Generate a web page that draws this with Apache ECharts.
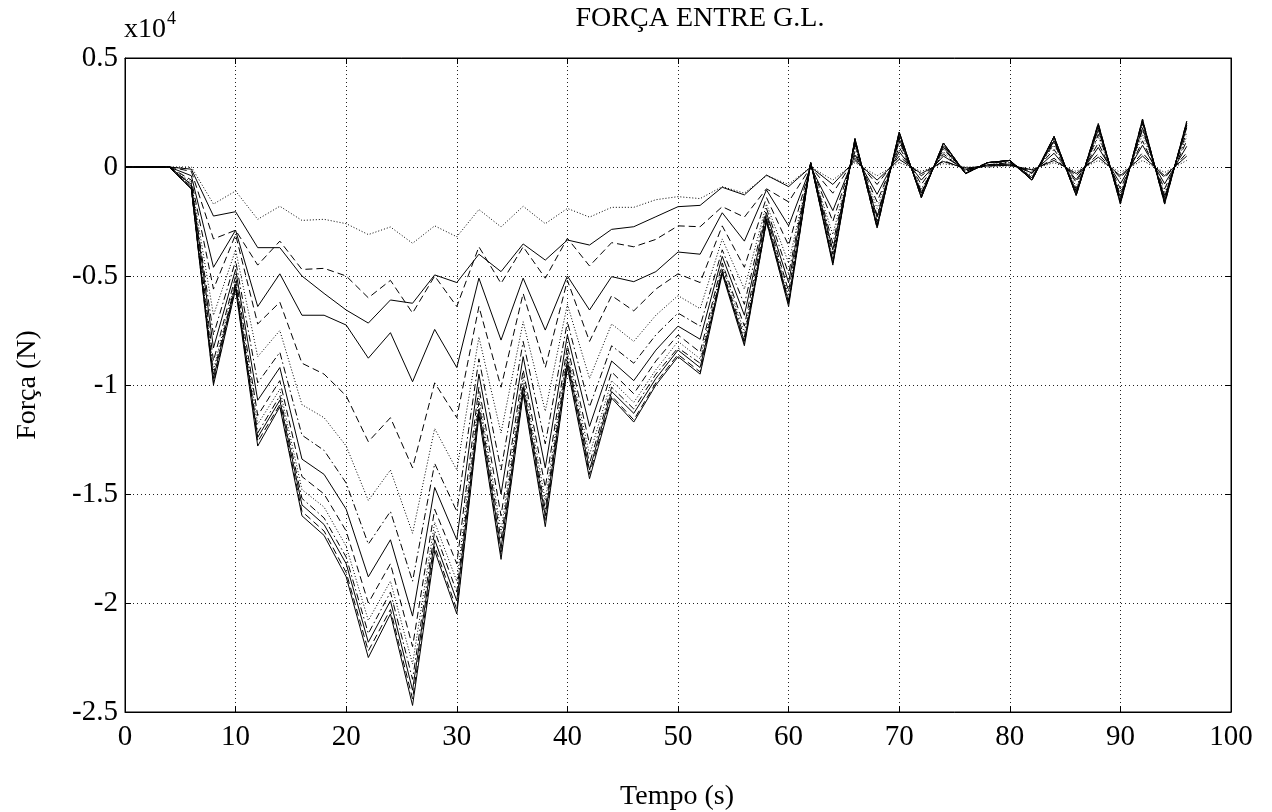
<!DOCTYPE html>
<html>
<head>
<meta charset="utf-8">
<script src="https://cdn.jsdelivr.net/npm/echarts@6/dist/echarts.min.js"></script>
<style>
html,body{margin:0;padding:0;background:#fff;}
#chart{width:1272px;height:812px;}
</style>
</head>
<body>
<div id="chart"></div>
<script>
// Time (s)
const T = [0,2,4,6,8,10,12,14,16,18,20,22,24,26,28,30,32,34,36,38,40,42,44,46,48,50,52,54,56,58,60,62,64,66,68,70,72,74,76,78,80,82,84,86,88,90,92,94,96];
// Força (x10^4 N), one array per G.L. pair, from top (smallest) to bottom (largest)
const L1 = [0,0,0,0,-0.17,-0.11,-0.24,-0.18,-0.245,-0.24,-0.26,-0.31,-0.275,-0.35,-0.27,-0.32,-0.195,-0.275,-0.18,-0.26,-0.19,-0.23,-0.185,-0.185,-0.15,-0.136,-0.145,-0.09,-0.12,-0.04,-0.08,0,-0.06,0.02,-0.04,0.02,-0.02,0.015,0,0,0.005,-0.01,0.02,-0.02,0.03,-0.025,0.03,-0.025,0.03];
const L2 = [0,0,0,-0.01,-0.225,-0.205,-0.37,-0.37,-0.50,-0.58,-0.656,-0.716,-0.61,-0.625,-0.495,-0.53,-0.40,-0.48,-0.353,-0.427,-0.335,-0.358,-0.286,-0.274,-0.228,-0.182,-0.176,-0.093,-0.128,-0.037,-0.09,0,-0.08,0.03,-0.06,0.035,-0.03,0.025,-0.005,0.005,0.008,-0.013,0.03,-0.03,0.045,-0.04,0.05,-0.04,0.05];
const L3 = [0,0,0,-0.02,-0.33,-0.29,-0.45,-0.34,-0.47,-0.465,-0.50,-0.60,-0.52,-0.67,-0.50,-0.64,-0.366,-0.534,-0.366,-0.51,-0.327,-0.454,-0.347,-0.366,-0.332,-0.27,-0.274,-0.182,-0.23,-0.10,-0.16,0,-0.12,0.04,-0.08,0.05,-0.04,0.03,-0.01,0.005,0.01,-0.02,0.04,-0.04,0.06,-0.05,0.065,-0.05,0.065];
const L4 = [0,0,0,-0.04,-0.46,-0.29,-0.64,-0.49,-0.68,-0.68,-0.725,-0.877,-0.76,-0.985,-0.745,-0.92,-0.51,-0.794,-0.51,-0.748,-0.50,-0.656,-0.503,-0.526,-0.48,-0.39,-0.40,-0.21,-0.34,-0.105,-0.27,0,-0.2,0.055,-0.125,0.07,-0.06,0.05,-0.013,0.01,0.013,-0.027,0.063,-0.058,0.09,-0.077,0.1,-0.077,0.095];
const L5 = [0,0,0,-0.06,-0.56,-0.31,-0.72,-0.62,-0.90,-0.95,-1.05,-1.26,-1.15,-1.38,-0.99,-1.15,-0.64,-1.01,-0.58,-0.92,-0.52,-0.80,-0.59,-0.66,-0.56,-0.49,-0.53,-0.27,-0.46,-0.14,-0.36,0.01,-0.25,0.07,-0.16,0.09,-0.08,0.06,-0.02,0.01,0.02,-0.03,0.08,-0.07,0.11,-0.10,0.12,-0.10,0.12];
const L6 = [0,0,0,-0.07,-0.68,-0.38,-0.87,-0.75,-1.09,-1.15,-1.28,-1.53,-1.39,-1.68,-1.20,-1.39,-0.78,-1.22,-0.71,-1.12,-0.63,-0.97,-0.72,-0.80,-0.68,-0.59,-0.65,-0.33,-0.56,-0.17,-0.44,0.01,-0.31,0.09,-0.19,0.11,-0.10,0.07,-0.02,0.01,0.02,-0.04,0.10,-0.09,0.14,-0.12,0.15,-0.12,0.14];
const L7 = [0,0,0,-0.08,-0.77,-0.43,-0.99,-0.85,-1.23,-1.30,-1.45,-1.73,-1.58,-1.90,-1.36,-1.58,-0.88,-1.39,-0.80,-1.27,-0.71,-1.10,-0.82,-0.90,-0.77,-0.67,-0.73,-0.38,-0.63,-0.19,-0.49,0.02,-0.35,0.10,-0.22,0.12,-0.11,0.08,-0.02,0.02,0.02,-0.05,0.11,-0.10,0.15,-0.13,0.17,-0.13,0.16];
const L8 = [0,0,0,-0.08,-0.83,-0.47,-1.07,-0.92,-1.34,-1.41,-1.57,-1.88,-1.71,-2.06,-1.47,-1.71,-0.95,-1.50,-0.87,-1.38,-0.77,-1.19,-0.89,-0.98,-0.84,-0.73,-0.79,-0.41,-0.68,-0.21,-0.53,0.02,-0.38,0.11,-0.23,0.13,-0.12,0.09,-0.03,0.02,0.03,-0.05,0.12,-0.11,0.17,-0.14,0.18,-0.14,0.18];
const L9 = [0,0,0,-0.09,-0.89,-0.50,-1.14,-0.98,-1.42,-1.50,-1.67,-2.00,-1.82,-2.20,-1.57,-1.82,-1.01,-1.60,-0.93,-1.47,-0.82,-1.27,-0.94,-1.04,-0.89,-0.77,-0.85,-0.44,-0.73,-0.22,-0.57,0.02,-0.40,0.12,-0.25,0.14,-0.12,0.10,-0.03,0.02,0.03,-0.05,0.12,-0.12,0.18,-0.15,0.20,-0.15,0.19];
const L10 = [0,0,0,-0.09,-0.93,-0.52,-1.18,-1.02,-1.48,-1.56,-1.74,-2.08,-1.90,-2.28,-1.63,-1.90,-1.05,-1.67,-0.96,-1.53,-0.85,-1.32,-0.98,-1.08,-0.93,-0.80,-0.88,-0.45,-0.76,-0.23,-0.59,0.02,-0.42,0.12,-0.26,0.15,-0.13,0.10,-0.03,0.02,0.03,-0.06,0.13,-0.12,0.19,-0.16,0.20,-0.16,0.19];
const L11 = [0,0,0,-0.10,-0.95,-0.53,-1.22,-1.05,-1.52,-1.61,-1.79,-2.14,-1.95,-2.35,-1.67,-1.95,-1.08,-1.71,-0.99,-1.57,-0.87,-1.36,-1.01,-1.11,-0.95,-0.83,-0.90,-0.47,-0.78,-0.24,-0.61,0.02,-0.43,0.12,-0.27,0.15,-0.13,0.10,-0.03,0.02,0.03,-0.06,0.13,-0.12,0.19,-0.16,0.21,-0.16,0.20];
const L12 = [0,0,0,-0.10,-0.97,-0.54,-1.24,-1.07,-1.55,-1.64,-1.82,-2.18,-1.99,-2.40,-1.71,-1.99,-1.11,-1.75,-1.01,-1.60,-0.89,-1.39,-1.03,-1.13,-0.97,-0.84,-0.92,-0.48,-0.80,-0.24,-0.62,0.02,-0.44,0.13,-0.27,0.16,-0.14,0.11,-0.03,0.02,0.03,-0.06,0.14,-0.13,0.19,-0.16,0.21,-0.16,0.20];
const L13 = [0,0,0,-0.10,-0.99,-0.55,-1.26,-1.09,-1.58,-1.67,-1.86,-2.22,-2.03,-2.44,-1.74,-2.03,-1.13,-1.78,-1.03,-1.63,-0.91,-1.41,-1.05,-1.16,-0.99,-0.86,-0.94,-0.48,-0.81,-0.25,-0.63,0.02,-0.44,0.13,-0.28,0.16,-0.14,0.11,-0.03,0.02,0.03,-0.06,0.14,-0.13,0.20,-0.17,0.22,-0.17,0.21];
const L14 = [0,0,0,-0.10,-1.00,-0.56,-1.28,-1.10,-1.60,-1.69,-1.88,-2.25,-2.05,-2.47,-1.76,-2.05,-1.14,-1.80,-1.04,-1.65,-0.92,-1.43,-1.06,-1.17,-1.00,-0.87,-0.95,-0.49,-0.82,-0.25,-0.64,0.02,-0.45,0.13,-0.28,0.16,-0.14,0.11,-0.03,0.02,0.03,-0.06,0.14,-0.13,0.20,-0.17,0.22,-0.17,0.21];
// Axis tick labels
const X_TICKS = [0,10,20,30,40,50,60,70,80,90,100];
const Y_TICKS = [0.5,0,-0.5,-1,-1.5,-2,-2.5];

const LINES = [L1,L2,L3,L4,L5,L6,L7,L8,L9,L10,L11,L12,L13,L14];
const DOT = [1,2], DASH = [7,4], DASHDOT = [7,3,1.5,3];
const STYLES = [DOT,'solid',DASH,'solid',DASH,DOT,DASHDOT,'solid',DASH,DOT,DASHDOT,'solid',DASH,'solid'];

const FONT = '"Liberation Serif", "Times New Roman", serif';

const series = LINES.map((arr, k) => ({
  type: 'line',
  xAxisIndex: 0,
  yAxisIndex: 0,
  data: T.map((t, i) => [t, arr[i]]),
  showSymbol: false,
  symbol: 'none',
  silent: true,
  lineStyle: { color: '#000', width: 1, type: STYLES[k] },
  z: 3
}));

const chart = echarts.init(document.getElementById('chart'), null, { renderer: 'canvas' });
chart.setOption({
  animation: false,
  backgroundColor: '#fff',
  grid: { left: 125, right: 41, top: 58, bottom: 100, show: true, borderColor: '#000', borderWidth: 1, backgroundColor: 'transparent' },
  xAxis: [
    {
      type: 'value', min: 0, max: 100, interval: 10,
      axisLine: { show: true, onZero: false, lineStyle: { color: '#000', width: 1 } },
      axisTick: { show: true, inside: true, length: 6, lineStyle: { color: '#000' } },
      axisLabel: { color: '#000', fontFamily: FONT, fontSize: 29, margin: 11,
        formatter: v => X_TICKS.indexOf(v) >= 0 ? String(v) : '' },
      splitLine: { show: true, lineStyle: { color: '#222', width: 1, type: [1, 3] } }
    },
    {
      type: 'value', position: 'top', min: 0, max: 100, interval: 10,
      axisLine: { show: true, onZero: false, lineStyle: { color: '#000', width: 1 } },
      axisTick: { show: true, inside: true, length: 6, lineStyle: { color: '#000' } },
      axisLabel: { show: false }, splitLine: { show: false }
    }
  ],
  yAxis: [
    {
      type: 'value', min: -2.5, max: 0.5, interval: 0.5,
      axisLine: { show: true, onZero: false, lineStyle: { color: '#000', width: 1 } },
      axisTick: { show: true, inside: true, length: 6, lineStyle: { color: '#000' } },
      axisLabel: { color: '#000', fontFamily: FONT, fontSize: 29, margin: 7,
        formatter: v => { const m = Y_TICKS.find(y => Math.abs(y - v) < 1e-9); return m === undefined ? '' : String(m); } },
      splitLine: { show: true, lineStyle: { color: '#222', width: 1, type: [1, 3] } }
    },
    {
      type: 'value', position: 'right', min: -2.5, max: 0.5, interval: 0.5,
      axisLine: { show: true, onZero: false, lineStyle: { color: '#000', width: 1 } },
      axisTick: { show: true, inside: true, length: 6, lineStyle: { color: '#000' } },
      axisLabel: { show: false }, splitLine: { show: false }
    }
  ],
  series: series,
  graphic: [
    { type: 'text', x: 700, y: 19, style: { text: 'FORÇA ENTRE G.L.', font: '28px ' + FONT, fill: '#000', align: 'center', verticalAlign: 'middle', textAlign: 'center', textVerticalAlign: 'middle' } },
    { type: 'text', x: 124, y: 30, style: { text: 'x10', font: '28px ' + FONT, fill: '#000', align: 'left', verticalAlign: 'middle', textAlign: 'left', textVerticalAlign: 'middle' } },
    { type: 'text', x: 167, y: 19, style: { text: '4', font: '18px ' + FONT, fill: '#000', align: 'left', verticalAlign: 'middle', textAlign: 'left', textVerticalAlign: 'middle' } },
    { type: 'text', x: 677, y: 797, style: { text: 'Tempo (s)', font: '28px ' + FONT, fill: '#000', align: 'center', verticalAlign: 'middle', textAlign: 'center', textVerticalAlign: 'middle' } },
    { type: 'text', x: 28, y: 385, rotation: Math.PI / 2, style: { text: 'Força (N)', font: '28px ' + FONT, fill: '#000', align: 'center', verticalAlign: 'middle', textAlign: 'center', textVerticalAlign: 'middle' } }
  ]
});
</script>
</body>
</html>
